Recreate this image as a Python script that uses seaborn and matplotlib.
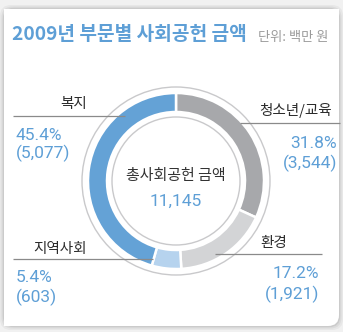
import matplotlib
matplotlib.use("Agg")
import matplotlib.pyplot as plt
from matplotlib.patches import FancyBboxPatch, Rectangle, Circle
import seaborn as sns

# ---- data -------------------------------------------------------------
title = "2009년 부문별 사회공헌 금액"
unit_label = "단위: 백만 원"
center_title = "총사회공헌 금액"
categories = ["청소년/교육", "환경", "지역사회", "복지"]
amounts = [3544, 1921, 603, 5077]
shares = [31.8, 17.2, 5.4, 45.4]
total = 11145

# ---- style ------------------------------------------------------------
sns.set_theme(style="white")
plt.rcParams["font.family"] = ["Noto Sans CJK KR", "DejaVu Sans"]

BLUE_TEXT = "#5e9fd6"
palette = sns.color_palette(["#a7a8ab", "#d3d4d6", "#b6d3ee", "#64a2d6"])
RING_LINE = "#c9c9cb"
LEADER = "#8a8a8a"
NUM_FONT = ["Roboto", "DejaVu Sans"]

W, H = 343, 332
fig = plt.figure(figsize=(W / 100, H / 100), dpi=100)
fig.patch.set_facecolor("#f1f1f1")

# background card (pixel coordinates, y down)
bg = fig.add_axes([0, 0, 1, 1], zorder=0)
bg.set_xlim(0, W)
bg.set_ylim(H, 0)
bg.axis("off")
for off, a in [(4.0, 0.04), (2.5, 0.05), (1.2, 0.07)]:
    bg.add_patch(FancyBboxPatch((4 - off, 9 - off), 335 + 2 * off, 317 + 2 * off,
                                boxstyle="round,pad=0,rounding_size=11",
                                fc="#000000", ec="none", alpha=a))
bg.add_patch(FancyBboxPatch((4, 9), 335, 317, boxstyle="round,pad=0,rounding_size=11",
                            fc="white", ec="none"))
# square corners everywhere except bottom-right
bg.add_patch(Rectangle((4, 9), 40, 40, fc="white", ec="none"))
bg.add_patch(Rectangle((299, 9), 40, 40, fc="white", ec="none"))
bg.add_patch(Rectangle((4, 286), 40, 40, fc="white", ec="none"))

# donut chart
cx, cy, box = 176, 181, 100
pax = fig.add_axes([(cx - box) / W, (H - cy - box) / H, 2 * box / W, 2 * box / H], zorder=1)
pax.pie(amounts, colors=palette, startangle=90, counterclock=False, radius=88,
        wedgeprops=dict(width=19, edgecolor="white", linewidth=1.8))
pax.add_patch(Circle((0, 0), 94, fill=False, ec=RING_LINE, lw=1.0))
pax.add_patch(Circle((0, 0), 64, fill=False, ec=RING_LINE, lw=1.0))
pax.set_xlim(-box, box)
pax.set_ylim(-box, box)
pax.set_aspect("equal")
pax.axis("off")

# labels, values and leader lines
ov = fig.add_axes([0, 0, 1, 1], zorder=2)
ov.set_xlim(0, W)
ov.set_ylim(H, 0)
ov.axis("off")
ov.patch.set_alpha(0)

ov.text(12, 35, title, color=BLUE_TEXT, fontsize=13.8, fontweight="bold",
        ha="left", va="center")
ov.text(258, 37, unit_label, color="#9a9a9a", fontsize=9.5, ha="left", va="center")

ov.text(cx, 176, center_title, color="#333333", fontsize=10.8, ha="center", va="center")
ov.text(cx, 201, f"{total:,}", color=BLUE_TEXT, fontsize=12.5, family=NUM_FONT,
        ha="center", va="center")

# (name, label x, label y, label align, line x0, line x1, line y,
#  value x, pct y, amount y, value align)
layout = {
    "복지": (74, 104, "center", 13, 125, 116, 16, 135, 153, "left"),
    "청소년/교육": (296, 111, "center", 240, 340, 123, 337, 144, 163, "right"),
    "환경": (274, 243, "center", 215, 322, 254, 319, 274, 294, "right"),
    "지역사회": (60, 249, "center", 13, 153, 259, 16, 278, 297, "left"),
}
for name, amt, pct in zip(categories, amounts, shares):
    lx, ly, la, x0, x1, y, vx, py, ay, va_ = layout[name]
    ov.plot([x0, x1], [y, y], color=LEADER, lw=0.9, solid_capstyle="butt")
    ov.text(lx, ly, name, color="#2b2b2b", fontsize=10.5, ha=la, va="center")
    ov.text(vx, py, f"{pct}%", color=BLUE_TEXT, fontsize=12.5, family=NUM_FONT,
            ha=va_, va="center")
    ov.text(vx, ay, f"({amt:,})", color=BLUE_TEXT, fontsize=12.5, family=NUM_FONT,
            ha=va_, va="center")

fig.savefig("out.png", dpi=100, facecolor=fig.get_facecolor())
